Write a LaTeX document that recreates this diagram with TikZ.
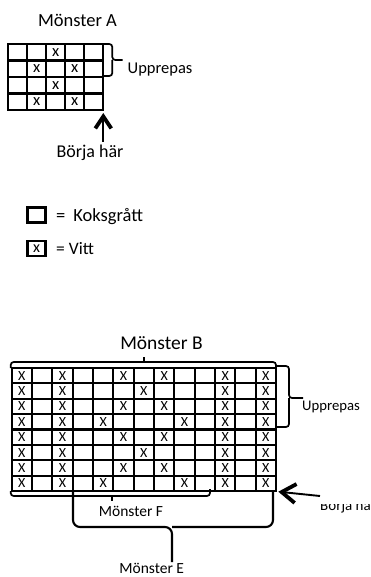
\documentclass[tikz,border=0pt]{standalone}
\usepackage{fontspec}
\setmainfont{Carlito}
\usetikzlibrary{arrows.meta}
\begin{document}
\begin{tikzpicture}[x=1pt,y=-1pt,
  gridline/.style={line width=2.1pt,line cap=rect},
  bracket/.style={line width=1.7pt,rounded corners=3pt},
  bigbrace/.style={line width=2.1pt,rounded corners=7pt},
  legbox/.style={draw,line width=2.4pt,minimum width=18pt,minimum height=15pt,inner sep=0pt},
  xa/.style={font=\fontsize{16.5}{16}\selectfont,inner sep=0pt},
  xb/.style={font=\fontsize{14}{14}\selectfont,inner sep=0pt},
  bigarrowA/.style={line width=1.9pt,-{Straight Barb[length=12pt,width=16pt,line width=3.8pt]}},
  bigarrowB/.style={line width=1.9pt,-{Straight Barb[length=14pt,width=19pt,line width=3.8pt]}},
  lbl/.style={inner sep=0pt}
]
\useasboundingbox (0,0) rectangle (371,577);

% ---------------- Pattern A
\node[lbl,anchor=base,font=\fontsize{18.5}{20}\selectfont] (titleA) at (77.5,26.5) {Mönster A};
\foreach \i in {0,...,5} \draw[gridline] (8.3+19*\i,44) -- (8.3+19*\i,110);
\foreach \j in {0,...,4} \draw[gridline] (8.3,44+16.5*\j) -- (103.3,44+16.5*\j);
\foreach \c/\r in {3/1,2/2,4/2,3/3,2/4,4/4}
  \node[xa] (xa-\c-\r) at (8.3+19*\c-9.5,44+16.5*\r-8.25) {x};
\coordinate (Abrtop) at (103.3,44);
\coordinate (Abrbot) at (103.3,76);
\coordinate (Abrtip) at (122.7,60);
\draw[bracket] (Abrtop) -| (112.3,60) -- (Abrtip);
\draw[bracket] (112.3,60) |- (Abrbot);
\node[lbl,anchor=base west,font=\fontsize{16.5}{18}\selectfont] (uppA) at (127.5,74) {Upprepas};
\node[lbl,anchor=base,font=\fontsize{18}{20}\selectfont] (borjaA) at (90,158) {Börja här};
\coordinate (Atail) at (103.3,142);
\coordinate (Atip) at (103.3,113);
\draw[bigarrowA] (Atail) -- (Atip);

% ---------------- Legend
\node[legbox] (leg1) at (36.5,215) {};
\node[lbl,anchor=base west,font=\fontsize{18.5}{20}\selectfont] (leg1t) at (56,221.5) {=\hspace{8pt}Koksgrått};
\node[legbox,font=\fontsize{16}{16}\selectfont] (leg2) at (36.5,248.5) {x};
\node[lbl,anchor=base west,font=\fontsize{17.5}{20}\selectfont] (leg2t) at (56,254.5) {= Vitt};

% ---------------- Pattern B
\node[lbl,anchor=base,font=\fontsize{19.5}{20}\selectfont] (titleB) at (161.5,349.5) {Mönster B};
\foreach \i in {0,...,13} \draw[gridline] (11.7+20.33*\i,368) -- (11.7+20.33*\i,491);
\foreach \j in {0,...,8} \draw[gridline] (11.7,368+15.375*\j) -- (276,368+15.375*\j);
\foreach \r/\cols in {1/{1,3,6,8,11,13},2/{1,3,7,11,13},3/{1,3,6,8,11,13},4/{1,3,5,9,11,13},
                      5/{1,3,6,8,11,13},6/{1,3,7,11,13},7/{1,3,6,8,11,13},8/{1,3,5,9,11,13}}
  \foreach \c in \cols
    \node[xb] (xb-\c-\r) at (11.7+20.33*\c-10.165,368+15.375*\r-7.69) {X};
% top brace
\draw[bracket] (10.7,368) |- (143.8,362) -| (276,368);
\draw[line width=1.7pt] (143.8,362) -- (143.8,357);
% right brace
\coordinate (Bbrtip) at (303,398);
\draw[bracket] (276,366) -| (289,398) -- (Bbrtip);
\draw[bracket] (289,398) |- (276,427);
\node[lbl,anchor=base west,font=\fontsize{14.7}{16}\selectfont] (uppB) at (302,410) {Upprepas};
% brace F
\draw[bracket] (10.7,491) |- (112,496) -| (210,489);
\draw[line width=1.7pt] (112,496) -- (112,501);
\node[lbl,anchor=base,font=\fontsize{15.5}{16}\selectfont] (monF) at (131,516.5) {Mönster F};
% brace E
\coordinate (Etip) at (172,562);
\draw[bigbrace] (73,491) |- (172,527) -- (Etip);
\draw[bigbrace] (273,491) |- (172,527);
\node[lbl,anchor=base,font=\fontsize{15.5}{16}\selectfont] (monE) at (151.7,573.5) {Mönster E};
% arrow B
\coordinate (Btail) at (320,496);
\coordinate (Btip) at (278.3,491.7);
\draw[bigarrowB] (Btail) -- (Btip);
\begin{scope}
  \clip (290,504.3) rectangle (371,530);
  \node[lbl,anchor=base west,font=\fontsize{15}{16}\selectfont] (borjaB) at (320,510.5) {Börja här};
\end{scope}
\end{tikzpicture}
\end{document}
